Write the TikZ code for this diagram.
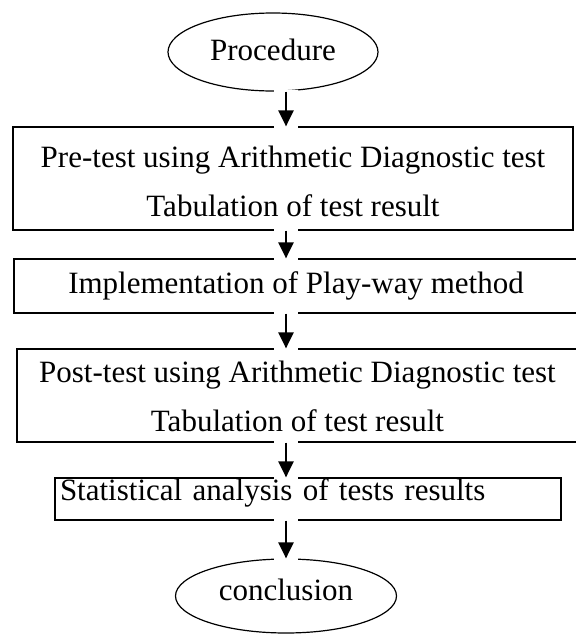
\documentclass[tikz,border=0pt]{standalone}
\usepackage{fontspec}
\setmainfont{Liberation Serif}
\usetikzlibrary{shapes.geometric, arrows.meta}
\tikzset{stepbox/.style={draw,line width=1.2pt,inner xsep=5pt,inner ysep=0pt},
         endbox/.style={draw,ellipse,line width=1.2pt,inner sep=0pt},
         flow/.style={line width=2.6pt,-{Triangle[width=15pt,length=16pt]},
                      preaction={draw=white,line width=24pt,arrows=-,shorten <=-2pt,shorten >=-2pt}}}

\begin{document}
\begin{tikzpicture}[x=1pt,y=-1pt,font=\fontsize{31}{49}\selectfont]
        \useasboundingbox(0,0)rectangle(576,635);

        \node[endbox,minimum width=210pt,minimum height=78pt,text depth=5pt](proc)at(273,52){Procedure};
        \node[stepbox,minimum width=560pt,minimum height=103pt,align=center,text height=77pt](pre)at(293,178.5){Pre-test using Arithmetic Diagnostic test\\Tabulation of test result};
        \node[stepbox,minimum width=564pt,minimum height=54pt](play)at(296,286){Implementation of Play-way method};
        \node[stepbox,minimum width=561pt,minimum height=93pt,align=center,text height=73pt](post)at(297.5,395.5){Post-test using Arithmetic Diagnostic test\\Tabulation of test result};
        \node[stepbox,minimum width=506pt,minimum height=42pt,text width=496pt,align=left,text depth=19pt](stat)at(308,499){Statistical analysis of tests results};
        \node[endbox,minimum width=221pt,minimum height=74pt,text depth=12pt](concl)at(286,596){conclusion};

        \coordinate(axis)at(286,0);
        \draw[flow](proc.south -| axis)--(pre.north -| axis);
        \draw[flow](pre.south -| axis)--(play.north -| axis);
        \draw[flow](play.south -| axis)--(post.north -| axis);
        \draw[flow](post.south -| axis)--(stat.north -| axis);
        \draw[flow](stat.south -| axis)--(concl.north -| axis);
    \end{tikzpicture}
\end{document}
